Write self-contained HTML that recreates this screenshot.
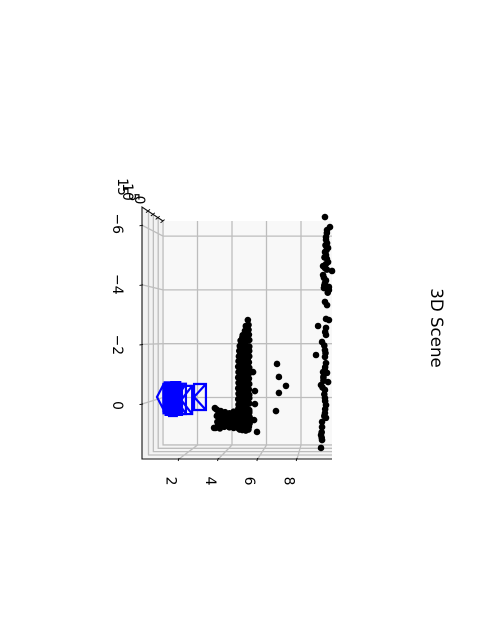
<!DOCTYPE html>
<html>
<head>
<meta charset="utf-8">
<title>3D Scene</title>
<style>
html,body{margin:0;padding:0;background:#fff;width:480px;height:640px;overflow:hidden}
svg{display:block}
text{font-family:"DejaVu Sans","Liberation Sans",sans-serif;fill:#000}
</style>
</head>
<body>
<svg id="chart" width="480" height="640" viewBox="0 0 480 640" xmlns="http://www.w3.org/2000/svg"></svg>
<script>
var lateralTicks = [-6, -4, -2, 0];
var lateralLabels = ['\u22126', '\u22124', '\u22122', '0'];
var depthTicks = [2, 4, 6, 8];
var depthLabels = ['2', '4', '6', '8'];
var heightTicks = [0, 5, 10, 15];
var heightLabels = ['0', '5', '10', '15'];

var wallDepth = [9.39,9.68,9.51,9.45,9.45,9.51,9.57,9.39,9.45,9.50,9.57,9.28,9.39,9.80,9.33,9.28,9.45,9.39,9.33,9.62,9.62,9.39,9.51,9.45,9.62,8.99,9.45,9.40,9.45,9.22,9.35,9.39,8.87,9.39,9.45,9.40,9.28,9.51,9.30,9.57,9.30,9.16,9.39,9.35,9.39,9.40,9.45,9.40,9.39,9.35,9.45,9.22,9.22,9.20,9.16,9.20,9.22,9.16,9.50,9.42,9.48,9.36,9.44,9.50,9.35,9.55,9.42,9.38,9.30,9.25];
var wallLateral = [-6.64,-6.27,-6.16,-5.90,-5.80,-5.68,-5.50,-5.35,-5.24,-5.10,-4.98,-4.83,-4.76,-4.65,-4.40,-4.50,-4.30,-4.21,-4.02,-4.06,-3.95,-3.51,-3.39,-2.88,-2.84,-2.62,-2.55,-2.40,-2.29,-2.03,-1.90,-1.73,-1.55,-1.48,-1.25,-1.10,-0.92,-0.89,-0.75,-0.55,-0.60,-0.44,-0.26,-0.10,0.04,0.15,0.30,0.45,0.59,0.70,0.77,0.92,1.11,1.30,1.40,1.50,1.59,1.88,-6.05,-5.60,-5.42,-5.15,-4.90,-4.70,-4.12,-3.85,-1.62,-1.00,-0.70,-0.35];

var clusterDepth = [4.92,4.80,4.96,4.75,4.96,4.62,4.98,4.50,4.76,5.00,4.45,4.72,5.00,4.42,4.68,4.94,5.00,4.40,4.66,4.90,5.00,4.38,4.62,4.88,4.98,4.36,4.60,4.86,5.00,4.38,4.58,4.84,5.00,4.36,4.60,4.88,4.98,4.38,4.55,4.82,5.00,4.36,4.60,4.85,4.98,4.38,4.52,4.80,5.00,4.36,4.55,4.85,5.00,4.38,4.50,4.78,5.00,4.36,4.55,4.85,5.00,4.38,4.48,4.78,5.00,4.38,4.52,4.82,5.00,4.40,4.55,4.85,5.00,3.10,3.35,3.60,3.85,4.10,4.40,4.70,5.00,3.12,3.40,3.65,3.90,4.15,4.45,4.75,5.02,3.15,3.38,3.62,3.88,4.12,4.42,4.72,5.02,3.05,3.30,3.55,3.85,4.10,4.38,4.68,4.98,4.95,4.45,4.60,4.80,4.95];
var clusterLateral = [-2.84,-2.62,-2.66,-2.44,-2.48,-2.28,-2.30,-2.08,-2.12,-2.10,-1.88,-1.92,-1.86,-1.70,-1.72,-1.68,-1.70,-1.50,-1.52,-1.48,-1.50,-1.32,-1.30,-1.34,-1.28,-1.12,-1.10,-1.14,-1.08,-0.92,-0.90,-0.94,-0.88,-0.72,-0.70,-0.74,-0.68,-0.52,-0.50,-0.54,-0.48,-0.32,-0.30,-0.34,-0.28,-0.12,-0.10,-0.14,-0.08,0.08,0.06,0.10,0.04,0.28,0.26,0.30,0.24,0.44,0.46,0.42,0.48,0.62,0.60,0.64,0.58,0.80,0.78,0.82,0.76,0.98,0.96,1.00,0.94,0.46,0.52,0.56,0.60,0.54,0.50,0.52,0.54,0.70,0.74,0.78,0.76,0.72,0.78,0.70,0.74,0.92,0.96,0.98,0.94,0.90,0.96,0.92,0.98,1.14,1.16,1.10,1.12,1.14,1.16,1.12,1.10,1.18,1.20,1.22,1.24,1.20];

var clusterFillDepth = [4.60,4.85,4.55,4.78,4.50,4.75,4.95,4.50,4.72,4.50,4.75,4.92,4.48,4.72,4.45,4.70,4.92,4.48,4.75,4.45,4.70,4.92,4.46,4.72,4.44,4.70,4.92,4.46,4.72,4.45,4.70,4.92,4.46,4.72,4.45,4.70,4.92,4.50,4.72,4.92,3.22,3.50,3.75,4.00,4.25,3.25,3.50,3.78,4.02,4.28,3.20,3.48,3.72,3.98,4.22,3.18,3.45,3.70,3.95,4.20,4.55,4.80];
var clusterFillLateral = [-2.20,-2.22,-1.98,-1.96,-1.78,-1.80,-1.78,-1.60,-1.62,-1.42,-1.40,-1.42,-1.22,-1.20,-1.02,-1.00,-1.02,-0.82,-0.80,-0.62,-0.60,-0.62,-0.42,-0.40,-0.22,-0.20,-0.22,-0.02,0.00,0.16,0.18,0.16,0.36,0.34,0.54,0.52,0.54,0.70,0.72,0.70,0.62,0.64,0.66,0.64,0.62,0.84,0.86,0.84,0.86,0.84,1.02,1.04,1.06,1.04,1.02,0.50,0.58,0.68,0.80,0.90,1.06,1.08];

var strayDepth = [6.61,6.72,7.13,6.72,6.55,5.33,5.33,5.22,5.28,5.45,3.01,2.96];
var strayLateral = [-1.22,-0.74,-0.41,-0.15,0.52,-0.22,0.26,-0.92,0.85,1.29,0.41,1.14];

var frustumBase = [2.49,1.69,1.33,1.10,1.00,0.90,0.80,0.72,0.63,0.55,0.47,0.40,0.32,0.25,0.18,0.12,0.06];
var frustumRear = [1.80,1.05,0.75,0.55,0.48,0.40,0.35,0.30,0.25,0.20,0.15,0.10,0.08,0.05,0.03,0.02,-0.35];
var frustumLateral = [0.00,0.11,0.07,0.10,-0.05,0.07,0.12,0.04,-0.02,0.07,0.10,0.00,-0.03,0.04,0.08,0.02,0.00];
var frustumHalfHeight = [0.48,0.52,0.56,0.56,0.50,0.54,0.58,0.56,0.50,0.52,0.56,0.54,0.46,0.52,0.52,0.50,0.50];
var frustumRearHalfHeight = [0.48,0.52,0.56,0.56,0.50,0.54,0.58,0.56,0.50,0.52,0.56,0.54,0.46,0.52,0.52,0.50,0.00];

var svg = document.getElementById('chart');
var NS = 'http://www.w3.org/2000/svg';

function markX(v){ return 163 + 17.25 * v; }
function markY(u){ return 397 + 27.1 * u; }
function backX(v){ return 163 + 17.25 * v; }
function backY(u){ return 397.5 + 26.9 * u; }
function frontX(v){ return 179 + 19.67 * (v - 2); }
function frontY(u){ return 404 + 29.8 * u; }
function labelX(v){ return 170.5 + 19.67 * (v - 2); }
function labelY(u){ return 405.5 + 30.3 * u; }
function heightX(h){ return 148.5 + 0.97 * h; }
function heightTop(h){ return 211 + 0.68 * h; }
function heightBottom(h){ return 455 - 0.67 * h; }

function make(tag, attrs){
  var el = document.createElementNS(NS, tag);
  for (var k in attrs) el.setAttribute(k, attrs[k]);
  svg.appendChild(el);
  return el;
}
function gridLine(points){
  return make('polyline', {points: points, fill: 'none', stroke: '#bdbdbd', 'stroke-width': 1.3});
}
function label(str, x, y, size){
  var t = make('text', {x: x, y: y, 'font-size': size, 'text-anchor': 'middle', 'dominant-baseline': 'central', transform: 'rotate(90 ' + x + ' ' + y + ')'});
  t.textContent = str;
  return t;
}

var leftPane = make('polygon', {points: '142,207 163,221 163,445 142,459', fill: '#f2f2f2'});


var floorPane = make('polygon', {points: '142,459 163,445 332,445 332,459', fill: '#f5f5f5'});


var backPane = make('rect', {x: 163, y: 221, width: 169, height: 224, fill: '#f8f8f8'});



heightTicks.forEach(function(h, i){
  var line = gridLine(heightX(h) + ',' + heightTop(h) + ' ' + heightX(h) + ',' + heightBottom(h) + ' 332,' + heightBottom(h));
  
  
  var tick = make('line', {x1: heightX(h) - 2.5, y1: heightTop(h) + 1.6, x2: heightX(h) + 1.5, y2: heightTop(h) - 1.6, stroke: '#000', 'stroke-width': 0.9});
  
  
});
lateralTicks.forEach(function(u, i){
  var line = gridLine('142,' + frontY(u) + ' 163,' + backY(u) + ' 332,' + backY(u));
  
  
  var tick = make('line', {x1: 139.5, y1: frontY(u) + 0.6, x2: 143, y2: frontY(u), stroke: '#000', 'stroke-width': 0.9});
  
  
  var text = label(lateralLabels[i], 117, labelY(u), 13.9);
  
  
});
depthTicks.forEach(function(v, i){
  var line = gridLine(frontX(v) + ',459 ' + backX(v) + ',445 ' + backX(v) + ',221');
  
  
  var tick = make('line', {x1: frontX(v), y1: 458, x2: frontX(v) - 0.8, y2: 461, stroke: '#000', 'stroke-width': 0.9});
  
  
  var text = label(depthLabels[i], labelX(v), 481, 13.9);
  
  
});

var zLabelX = [139, 133, 127, 122];
var zLabelY = [200, 197, 192, 187];
heightLabels.forEach(function(s, i){
  var text = label(s, zLabelX[i], zLabelY[i], 13.9);
  
  
});

var axes = make('polyline', {points: '163,221 142,207 142,459 332,459', fill: 'none', stroke: '#111', 'stroke-width': 1.1});



function drawDots(depths, laterals, name){
  depths.forEach(function(v, i){
    var dot = make('circle', {cx: markX(v), cy: markY(laterals[i]), r: 3.3, fill: '#000'});
    
    
  });
}
drawDots(wallDepth, wallLateral, 'wall-point');
drawDots(clusterDepth, clusterLateral, 'cluster-point');
drawDots(clusterFillDepth, clusterFillLateral, 'cluster-point');
drawDots(strayDepth, strayLateral, 'stray-point');

frustumBase.forEach(function(b, i){
  var bx = markX(b), ax = markX(frustumRear[i]);
  var cy = markY(frustumLateral[i]);
  var h = frustumHalfHeight[i] * 27.1;
  var rh = frustumRearHalfHeight[i] * 27.1;
  var d = 'M' + bx + ' ' + (cy - h) + 'L' + bx + ' ' + (cy + h) + 'L' + ax + ' ' + (cy + rh) + 'L' + ax + ' ' + (cy - rh) + 'Z' +
          'M' + bx + ' ' + (cy - h) + 'L' + ax + ' ' + cy + 'L' + bx + ' ' + (cy + h);
  var cam = make('path', {d: d, fill: 'none', stroke: '#0000ff', 'stroke-width': 2.2});
  
  
});

var title = label('3D Scene', 436.5, 328, 16.67);


</script>
</body>
</html>
